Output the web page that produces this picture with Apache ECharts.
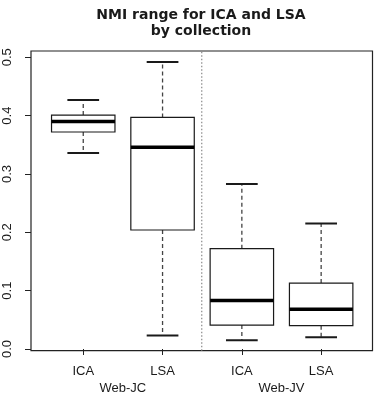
<!DOCTYPE html>
<html>
<head>
<meta charset="utf-8">
<script src="https://cdn.jsdelivr.net/npm/echarts@6/dist/echarts.min.js"></script>
<style>html,body{margin:0;padding:0;background:#fff}#c{width:378px;height:402px}</style>
</head>
<body>
<div id="c"></div>
<script>
const categories = ['ICA', 'LSA', 'ICA', 'LSA'];
const groups = ['Web-JC', 'Web-JV'];
const lowWhisker = [0.336, 0.023, 0.015, 0.020];
const q1 = [0.372, 0.204, 0.041, 0.040];
const median = [0.390, 0.346, 0.083, 0.068];
const q3 = [0.401, 0.397, 0.172, 0.113];
const highWhisker = [0.427, 0.492, 0.283, 0.215];
const separator = [2.5];

const font = 'Liberation Sans, Arial, Helvetica, sans-serif';
const titleFont = 'DejaVu Sans, Liberation Sans, sans-serif';
const ink = '#1a1a1a';

const boxData = categories.map((c, i) => [i, lowWhisker[i], q1[i], median[i], q3[i], highWhisker[i]]);

const chart = echarts.init(document.getElementById('c'), null, {renderer: 'canvas'});
chart.setOption({
  animation: false,
  backgroundColor: '#fff',
  title: {
    text: 'NMI range for ICA and LSA\nby collection',
    left: 201, top: 7, padding: 0, textAlign: 'center',
    textStyle: {fontFamily: titleFont, fontSize: 14, fontWeight: 'bold', color: ink, lineHeight: 16}
  },
  grid: [
    {left: 31, right: 5.5, top: 51, bottom: 51.3, show: true, borderColor: '#222', borderWidth: 1.2, backgroundColor: 'transparent'},
    {left: 43.6, right: 17.2, top: 57.3, bottom: 53}
  ],
  xAxis: [
    {gridIndex: 0, type: 'value', min: 0.34, max: 4.66, show: false},
    {gridIndex: 1, type: 'category', data: categories, position: 'bottom', offset: 2,
      axisLine: {show: false},
      axisTick: {show: true, alignWithLabel: true, length: 6, lineStyle: {color: '#222', width: 1}},
      axisLabel: {margin: 14, fontFamily: font, fontSize: 13, color: ink},
      splitLine: {show: false}},
    {gridIndex: 1, type: 'category', data: groups, position: 'bottom', offset: 2,
      axisLine: {show: false}, axisTick: {show: false},
      axisLabel: {margin: 31, fontFamily: font, fontSize: 13, color: ink},
      splitLine: {show: false}}
  ],
  yAxis: [
    {gridIndex: 0, type: 'value', min: 0, max: 1, show: false},
    {gridIndex: 1, type: 'value', min: 0, max: 0.5, interval: 0.1, position: 'left', offset: 12.6,
      axisLine: {show: false},
      axisTick: {show: true, length: 6, lineStyle: {color: '#222', width: 1}},
      axisLabel: {rotate: 90, margin: 17, fontFamily: font, fontSize: 13, color: ink,
        formatter: v => v.toFixed(1)},
      splitLine: {show: false}}
  ],
  series: [
    {
      type: 'line', xAxisIndex: 0, yAxisIndex: 0,
      data: [[separator[0], 0], [separator[0], 1]],
      symbol: 'none', silent: true,
      lineStyle: {color: '#888', width: 1.2, type: [1.5, 2]}
    },
    {
      type: 'custom', xAxisIndex: 1, yAxisIndex: 1,
      data: boxData,
      renderItem: function (params, api) {
        const i = api.value(0);
        const bw = api.size([1, 0])[0] * 0.8;
        const cap = bw / 2;
        const pLow = api.coord([i, api.value(1)]);
        const pQ1 = api.coord([i, api.value(2)]);
        const pMed = api.coord([i, api.value(3)]);
        const pQ3 = api.coord([i, api.value(4)]);
        const pHigh = api.coord([i, api.value(5)]);
        const x = pMed[0];
        const stroke = '#1a1a1a';
        return {
          type: 'group',
          children: [
            {type: 'line', shape: {x1: x, y1: pQ3[1], x2: x, y2: pHigh[1]},
              style: {stroke: '#444', lineWidth: 1.3, lineDash: [4, 3]}},
            {type: 'line', shape: {x1: x, y1: pQ1[1], x2: x, y2: pLow[1]},
              style: {stroke: '#444', lineWidth: 1.3, lineDash: [4, 3]}},
            {type: 'line', shape: {x1: x - cap / 2, y1: pHigh[1], x2: x + cap / 2, y2: pHigh[1]},
              style: {stroke: stroke, lineWidth: 2}},
            {type: 'line', shape: {x1: x - cap / 2, y1: pLow[1], x2: x + cap / 2, y2: pLow[1]},
              style: {stroke: stroke, lineWidth: 2}},
            {type: 'rect', shape: {x: x - bw / 2, y: pQ3[1], width: bw, height: pQ1[1] - pQ3[1]},
              style: {stroke: stroke, fill: '#fff', lineWidth: 1.2}},
            {type: 'line', shape: {x1: x - bw / 2, y1: pMed[1], x2: x + bw / 2, y2: pMed[1]},
              style: {stroke: '#000', lineWidth: 3.5}}
          ]
        };
      }
    }
  ]
});
</script>
</body>
</html>
